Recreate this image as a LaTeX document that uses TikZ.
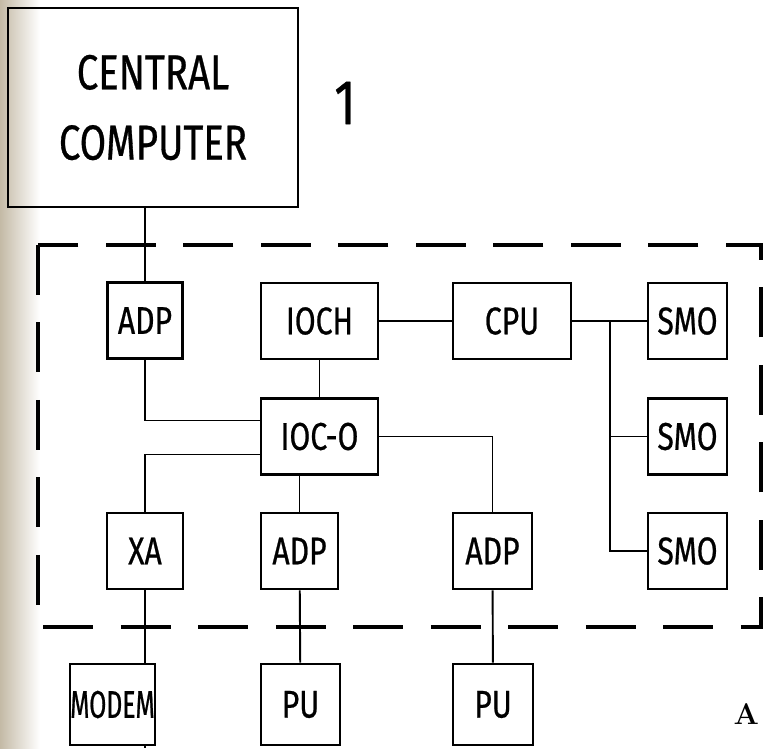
\documentclass[tikz,border=0pt]{standalone}
\usepackage{fontspec}
\newfontfamily\handfont[FakeStretch=0.78, FakeBold=0.6]{Fira Sans}
\newfontfamily\handnarrow[FakeStretch=0.64, FakeBold=0.6]{Fira Sans}
\usetikzlibrary{calc}

\definecolor{gutter}{RGB}{196,186,166}

\tikzset{
  blk/.style 2 args={draw, line width=1.6pt, inner sep=0pt,
    minimum width=#1*0.02cm, minimum height=#2*0.02cm,
    font=\handfont\fontsize{22}{26}\selectfont},
  conn/.style={line width=1.1pt},
  frame/.style={line width=1.8pt, dash pattern=on 1cm off 0.55cm}
}

\begin{document}
\begin{tikzpicture}[x=0.02cm, y=-0.02cm]
  % Page
  \useasboundingbox (0,0) rectangle (763,748);
  \fill[left color=gutter, right color=white] (0,0) rectangle (40,748);

  % Dashed frame
  \draw[frame] (38,245) rectangle (761,627);

  % Central computer
  \node[blk={290}{199}, font=\handfont\fontsize{28}{40}\selectfont, align=center]
    (cc) at (153,107.5) {CENTRAL\\COMPUTER};
  \node[font=\handfont\fontsize{36}{40}\selectfont] (num) at (345,103) {1};

  % Boxes inside the frame
  \node[blk={75}{76}]  (adp1) at (145,320.5)   {ADP};
  \node[blk={117}{76}] (ioch) at (319.5,321)   {IOCH};
  \node[blk={117}{76}] (ioco) at (319.5,436.5) {IOC-O};
  \node[blk={118}{76}] (cpu)  at (512,321)     {CPU};
  \node[blk={79}{76}]  (smo1) at (687.5,321)   {SMO};
  \node[blk={79}{76}]  (smo2) at (687.5,436.5) {SMO};
  \node[blk={79}{76}]  (smo3) at (687.5,551)   {SMO};
  \node[blk={76}{76}]  (xa)   at (145,551)     {XA};
  \node[blk={77}{76}]  (adp2) at (299.5,551)   {ADP};
  \node[blk={79}{76}]  (adp3) at (492.5,551)   {ADP};

  % Boxes below the frame
  \node[blk={85}{81}, font=\handnarrow\fontsize{22}{26}\selectfont]
    (modem) at (112.5,704.5) {MODEM};
  \node[blk={79}{81}] (pu1)   at (300.5,704.5) {PU};
  \node[blk={80}{81}] (pu2)   at (493,704.5)   {PU};

  \node[font=\bfseries\fontsize{17}{20}\selectfont, anchor=east, inner sep=1pt]
    (note) at (761,714) {A};

  % Connections
  \coordinate (bus) at (610,321);
  \coordinate (out) at (145,748);
  \draw[conn] (adp1.north) -- (adp1.north |- cc.south);
  \draw[conn] (adp1.south) |- ($(ioco.west)+(0,-16)$);
  \draw[conn] (xa.north) |- ($(ioco.west)+(0,18)$);
  \draw[conn] (ioch) -- (ioco);
  \draw[conn] (ioch) -- (cpu);
  \draw[conn] (adp2.north) -- (adp2.north |- ioco.south);
  \draw[conn] (ioco.east) -| (adp3.north);
  \draw[conn] (cpu) -- (smo1);
  \draw[conn] (bus) |- (smo3.west);
  \draw[conn] (smo2.west) -- (smo2.west -| bus);
  \draw[conn] (xa.south) -- (xa.south |- modem.north);
  \draw[conn] (out |- modem.south) -- (out);
  \draw[conn] (adp2) -- (pu1);
  \draw[conn] (adp3) -- (pu2);
\end{tikzpicture}
\end{document}
